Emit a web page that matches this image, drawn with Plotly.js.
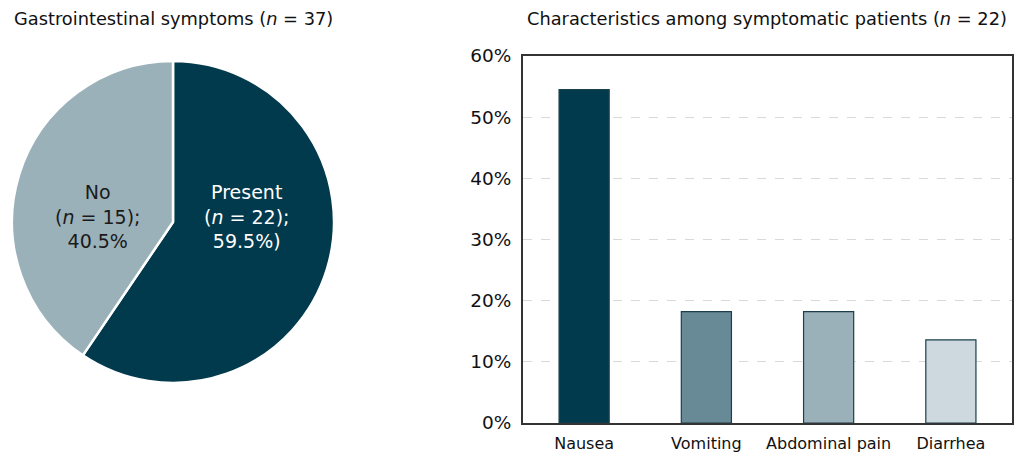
<!DOCTYPE html>
<html>
<head>
<meta charset="utf-8">
<script src="https://cdn.plot.ly/plotly-3.0.1.min.js"></script>
<style>html,body{margin:0;padding:0;background:#fff;}#chart{width:1027px;height:471px;}</style>
</head>
<body>
<div id="chart"></div>
<script>
// Pie data
const pieLabels = ["Present", "No"];
const pieCounts = [22, 15];
const piePercents = [59.5, 40.5];
const pieColors = ["#023a4d", "#9bb1b9"];

// Bar data
const barCategories = ["Nausea", "Vomiting", "Abdominal pain", "Diarrhea"];
const barValues = [54.5, 18.2, 18.2, 13.6];
const barColors = ["#023a4d", "#678a96", "#9bb1b9", "#cdd9de"];

const W = 1027, H = 471;
const FONT = "DejaVu Sans, sans-serif";

const pieTrace = {
  type: "pie",
  labels: pieLabels,
  values: pieCounts,
  sort: false,
  direction: "clockwise",
  rotation: 0,
  textinfo: "none",
  hoverinfo: "label+value+percent",
  marker: {colors: pieColors, line: {color: "#ffffff", width: 2.5}},
  domain: {x: [12 / W, 334 / W], y: [1 - 383 / H, 1 - 61 / H]},
  showlegend: false
};

const barTrace = {
  type: "bar",
  x: barCategories,
  y: barValues,
  xaxis: "x",
  yaxis: "y",
  width: 0.41,
  marker: {color: barColors, line: {color: "#1b3f4e", width: 1.2}},
  showlegend: false
};

// Pie labels text built from data
const pieTextColors = ["#ffffff", "#1a1a1a"];
const pieTextPos = [[246, 216], [97, 216]];
const pieEnd = [")", ""];
const annotations = pieLabels.map((lab, i) => ({
  xref: "paper", yref: "paper",
  x: pieTextPos[i][0] / W, y: 1 - pieTextPos[i][1] / H,
  xanchor: "center", yanchor: "middle",
  showarrow: false,
  align: "center",
  text: lab + "<br>(<i>n</i> = " + pieCounts[i] + ");<br>" + piePercents[i].toFixed(1) + "%" + pieEnd[i],
  font: {family: FONT, size: 19, color: pieTextColors[i]}
}));

annotations.push({
  xref: "paper", yref: "paper", x: 12 / W, y: 1 - 19 / H,
  xanchor: "left", yanchor: "middle", showarrow: false,
  text: "Gastrointestinal symptoms (<i>n</i> = " + pieCounts.reduce((a, b) => a + b, 0) + ")",
  font: {family: FONT, size: 17.8, color: "#111"}
});
annotations.push({
  xref: "paper", yref: "paper", x: 767 / W, y: 1 - 19 / H,
  xanchor: "center", yanchor: "middle", showarrow: false,
  text: "Characteristics among symptomatic patients (<i>n</i> = " + pieCounts[0] + ")",
  font: {family: FONT, size: 17.8, color: "#111"}
});

const layout = {
  width: W, height: H,
  margin: {l: 0, r: 0, t: 0, b: 0},
  paper_bgcolor: "#ffffff",
  plot_bgcolor: "#ffffff",
  font: {family: FONT, color: "#111", size: 16},
  xaxis: {
    domain: [523 / W, 1012 / W],
    range: [-0.5, 3.5],
    showline: true, linecolor: "#333", linewidth: 2, mirror: true,
    showgrid: false, ticks: "", zeroline: false, ticklabelstandoff: 5,
    tickfont: {family: FONT, size: 16, color: "#111"},
    fixedrange: true
  },
  yaxis: {
    domain: [1 - 423 / H, 1 - 56 / H],
    range: [0, 60], dtick: 10, ticksuffix: "%",
    showline: true, linecolor: "#333", linewidth: 2, mirror: true,
    showgrid: true, gridcolor: "#d9d9d9", griddash: "dash", gridwidth: 1,
    zeroline: false, ticks: "", ticklabelstandoff: 6,
    tickfont: {family: FONT, size: 18.5, color: "#111"},
    fixedrange: true
  },
  annotations: annotations
};

Plotly.newPlot("chart", [pieTrace, barTrace], layout, {displayModeBar: false, staticPlot: true});
</script>
</body>
</html>
